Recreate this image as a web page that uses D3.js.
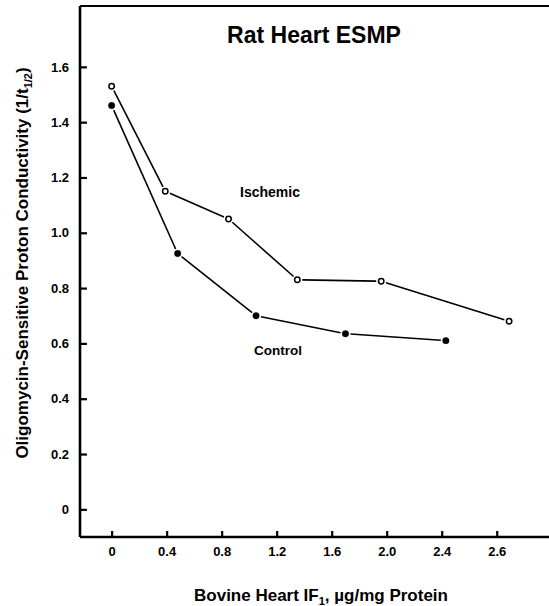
<!DOCTYPE html>
<html>
<head>
<meta charset="utf-8">
<script src="https://cdn.jsdelivr.net/npm/d3@7"></script>
<style>
  body { margin: 0; background: #fff; }
  text { font-family: "Liberation Sans", Arial, sans-serif; font-weight: bold; fill: #000; }
</style>
</head>
<body>
<svg width="549" height="606"></svg>
<script>
// values
var ischemicX = [0, 0.39, 0.85, 1.35, 1.96, 2.89];
var ischemicY = [1.53, 1.15, 1.05, 0.83, 0.825, 0.68];
var controlX = [0, 0.48, 1.05, 1.70, 2.43];
var controlY = [1.46, 0.925, 0.70, 0.635, 0.61];

var xTicks = [0, 0.4, 0.8, 1.2, 1.6, 2.0, 2.4, 2.8];
var xTickLabels = ["0", "0.4", "0.8", "1.2", "1.6", "2.0", "2.4", "2.6"];
var yTicks = [0, 0.2, 0.4, 0.6, 0.8, 1.0, 1.2, 1.4, 1.6];
var yTickLabels = ["0", "0.2", "0.4", "0.6", "0.8", "1.0", "1.2", "1.4", "1.6"];

var svg = d3.select("svg");

// plot frame
var pLeft = 80, pRight = 549, pTop = 6, pBottom = 537;

var x = d3.scaleLinear().domain([-0.23, 3.18]).range([pLeft, pRight]);
var y = d3.scaleLinear().domain([-0.1, 1.82]).range([pBottom, pTop]);

// top border line
svg.append("line")
    .attr("x1", pLeft).attr("x2", pRight)
    .attr("y1", pTop).attr("y2", pTop)
    .attr("stroke", "#000").attr("stroke-width", 2.2);

// y axis, ticks pointing in
var yAxis = svg.append("g")
    .attr("transform", "translate(" + pLeft + ",0)")
    .call(d3.axisLeft(y)
        .tickValues(yTicks)
        .tickFormat(function(d, i) { return yTickLabels[i]; })
        .tickSize(-7)
        .tickPadding(11));

// x axis, ticks pointing up
var xAxis = svg.append("g")
    .attr("transform", "translate(0," + pBottom + ")")
    .call(d3.axisBottom(x)
        .tickValues(xTicks)
        .tickFormat(function(d, i) { return xTickLabels[i]; })
        .tickSize(-6)
        .tickPadding(10));

[yAxis, xAxis].forEach(function(a) {
    a.select(".domain").attr("stroke", "#000").attr("stroke-width", 2.6);
    a.selectAll(".tick line").attr("stroke", "#000").attr("stroke-width", 2.2);
    a.selectAll(".tick text")
        .attr("fill", "#000")
        .style("font-size", "13px")
        .style("font-family", "'Liberation Sans', Arial, sans-serif")
        .style("font-weight", "bold");
});
yAxis.select(".domain").attr("d", "M0," + pTop + "V" + pBottom);
xAxis.select(".domain").attr("d", "M" + pLeft + ",0H" + pRight);

// series, segments stop short of the markers
function drawSeries(xs, ys, filled) {
    var pts = xs.map(function(d, i) { return [x(d), y(ys[i])]; });
    var gap = 5;
    var segs = d3.pairs(pts);
    svg.append("g").selectAll("line")
        .data(segs)
        .enter().append("line")
        .attr("x1", function(d) { return shorten(d[0], d[1], gap)[0]; })
        .attr("y1", function(d) { return shorten(d[0], d[1], gap)[1]; })
        .attr("x2", function(d) { return shorten(d[1], d[0], gap)[0]; })
        .attr("y2", function(d) { return shorten(d[1], d[0], gap)[1]; })
        .attr("stroke", "#000")
        .attr("stroke-width", 1.6);

    svg.append("g").selectAll("circle")
        .data(pts)
        .enter().append("circle")
        .attr("cx", function(d) { return d[0]; })
        .attr("cy", function(d) { return d[1]; })
        .attr("r", filled ? 3.2 : 2.7)
        .attr("fill", filled ? "#000" : "#fff")
        .attr("stroke", "#000")
        .attr("stroke-width", filled ? 0.5 : 1.5);
}

function shorten(a, b, g) {
    var dx = b[0] - a[0], dy = b[1] - a[1];
    var len = Math.sqrt(dx * dx + dy * dy);
    return [a[0] + dx / len * g, a[1] + dy / len * g];
}

drawSeries(ischemicX, ischemicY, false);
drawSeries(controlX, controlY, true);

// labels
svg.append("text")
    .attr("x", 314).attr("y", 43)
    .attr("text-anchor", "middle")
    .style("font-size", "23px")
    .text("Rat Heart ESMP");

svg.append("text")
    .attr("x", 240).attr("y", 197)
    .style("font-size", "14px")
    .text("Ischemic");

svg.append("text")
    .attr("x", 254).attr("y", 355)
    .style("font-size", "13.5px")
    .text("Control");

var xl = svg.append("text")
    .attr("x", 321).attr("y", 601)
    .attr("text-anchor", "middle")
    .style("font-size", "17px");
xl.append("tspan").text("Bovine Heart IF");
xl.append("tspan").attr("dy", 4).style("font-size", "11px").text("1");
xl.append("tspan").attr("dy", -4).text(", \u00b5g/mg Protein");

var yl = svg.append("text")
    .attr("transform", "translate(28,263) rotate(-90)")
    .attr("text-anchor", "middle")
    .style("font-size", "17px");
yl.append("tspan").text("Oligomycin-Sensitive Proton Conductivity (1/t");
yl.append("tspan").attr("dy", 4).style("font-size", "11px").text("1/2");
yl.append("tspan").attr("dy", -4).text(")");
</script>
</body>
</html>
